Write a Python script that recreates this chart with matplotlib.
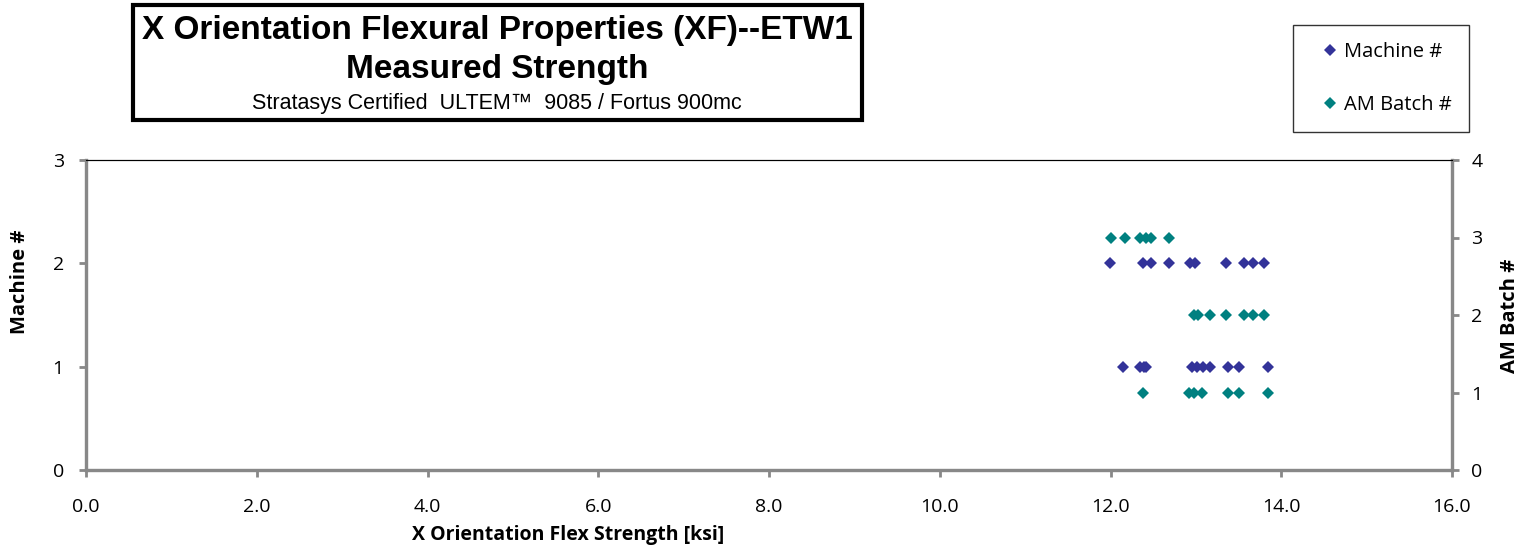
import matplotlib
matplotlib.use("Agg")
import matplotlib.pyplot as plt
from matplotlib.patches import Rectangle

# data (strength in ksi)
machine1_ksi = [12.15, 12.34, 12.39, 12.42, 12.96, 13.01, 13.08, 13.16, 13.38, 13.51, 13.85]
machine2_ksi = [11.99, 12.38, 12.47, 12.68, 12.93, 12.99, 13.35, 13.56, 13.67, 13.80]
batch1_ksi = [12.38, 12.92, 12.98, 13.07, 13.38, 13.51, 13.85]
batch2_ksi = [12.98, 13.02, 13.16, 13.35, 13.56, 13.67, 13.80]
batch3_ksi = [12.00, 12.17, 12.35, 12.42, 12.48, 12.68]

x_ticks = [0, 2, 4, 6, 8, 10, 12, 14, 16]
machine_ticks = [0, 1, 2, 3]
batch_ticks = [0, 1, 2, 3, 4]

blue = "#333399"
teal = "#008080"
gray = "#888888"
tick_font = "Open Sans"

fig = plt.figure(figsize=(15.26, 5.5), dpi=100)
ax = fig.add_axes([86 / 1526, 1 - 470 / 550, (1452 - 86) / 1526, 310 / 550])
ax2 = ax.twinx()

# machine # on left axis, AM batch # on right axis
mx = machine1_ksi + machine2_ksi
my = [1] * len(machine1_ksi) + [2] * len(machine2_ksi)
bx = batch1_ksi + batch2_ksi + batch3_ksi
by = [1] * len(batch1_ksi) + [2] * len(batch2_ksi) + [3] * len(batch3_ksi)
h1, = ax.plot(mx, my, "D", color=blue, ms=6.5, mew=0, label="Machine #")
h2, = ax2.plot(bx, by, "D", color=teal, ms=6.5, mew=0, label="AM Batch #")

ax.set_xlim(0, 16)
ax.set_ylim(0, 3)
ax2.set_ylim(0, 4)
ax.set_xticks(x_ticks)
ax.set_xticklabels([f"{v:.1f}" for v in x_ticks], family=tick_font, fontsize=14)
ax.set_yticks(machine_ticks)
ax.set_yticklabels([str(v) for v in machine_ticks], family=tick_font, fontsize=14)
ax2.set_yticks(batch_ticks)
ax2.set_yticklabels([str(v) for v in batch_ticks], family=tick_font, fontsize=14)

for a in (ax, ax2):
    for side in ("left", "right", "bottom"):
        a.spines[side].set_color(gray)
        a.spines[side].set_linewidth(2.3)
    a.spines["top"].set_color("black")
    a.spines["top"].set_linewidth(0.8)
    a.tick_params(color=gray, width=2, length=5, direction="out")
ax.tick_params(axis="x", pad=15)
ax.tick_params(axis="y", pad=11)
ax2.tick_params(axis="y", pad=9)

# axis titles
fig.text(568 / 1526, 1 - 535 / 550, "X Orientation Flex Strength [ksi]",
         ha="center", va="center", family=tick_font, weight="bold", fontsize=14)
fig.text(20 / 1526, 1 - 282 / 550, "Machine #", rotation=90,
         ha="center", va="center", family=tick_font, weight="bold", fontsize=14.5)
fig.text(1510 / 1526, 1 - 316 / 550, "AM Batch #", rotation=90,
         ha="center", va="center", family=tick_font, weight="bold", fontsize=14.5)

# title box
fig.patches.append(Rectangle((133 / 1526, 1 - 120 / 550), 729 / 1526, 115 / 550,
                             transform=fig.transFigure, fill=False,
                             edgecolor="black", linewidth=3))
title_font = "Liberation Sans"
fig.text(497 / 1526, 1 - 31 / 550, "X Orientation Flexural Properties (XF)--ETW1",
         ha="center", va="center", family=title_font, weight="bold", fontsize=24)
fig.text(497 / 1526, 1 - 70 / 550, "Measured Strength",
         ha="center", va="center", family=title_font, weight="bold", fontsize=24)
fig.text(497 / 1526, 1 - 103 / 550, "Stratasys Certified  ULTEM™  9085 / Fortus 900mc",
         ha="center", va="center", family=title_font, fontsize=15.5)

leg = fig.legend(handles=[h1, h2], loc="upper left",
                 bbox_to_anchor=(1293 / 1526, 1 - 25 / 550),
                 frameon=True, fancybox=False, edgecolor="black",
                 prop={"family": tick_font, "size": 14.5}, labelspacing=1.65,
                 handlelength=2.0, handletextpad=-0.3, borderpad=0.85,
                 borderaxespad=0)
leg.get_frame().set_linewidth(1)

fig.savefig("out.png", dpi=100)
